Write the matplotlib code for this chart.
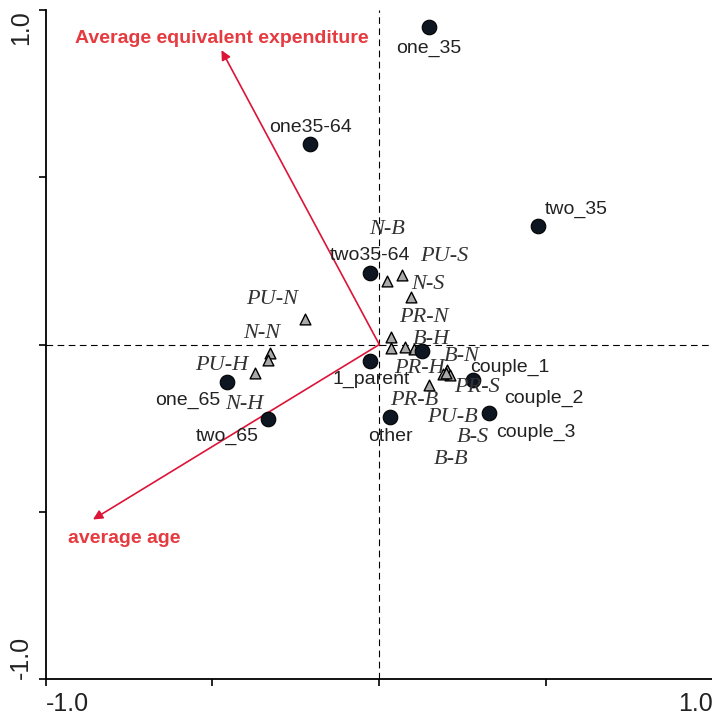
import numpy as np
import matplotlib
matplotlib.use('Agg')
import matplotlib.pyplot as plt

plt.rcParams['font.family'] = ['Liberation Sans', 'DejaVu Sans']

# household groups (circles)
groups = ['one_35', 'one35-64', 'two_35', 'two35-64', '1_parent', 'couple_1',
          'one_65', 'two_65', 'other', 'couple_2', 'couple_3']
group_x = [0.149, -0.207, 0.476, -0.027, -0.027, 0.129, -0.455, -0.335, 0.033, 0.281, 0.329]
group_y = [0.950, 0.601, 0.353, 0.215, -0.048, -0.018, -0.111, -0.224, -0.218, -0.105, -0.206]

# region / type codes (triangles)
codes = ['N-B', 'PU-S', 'N-S', 'PR-N', 'B-H', 'PR-H', 'PR-B', 'B-N', 'PR-S', 'PU-B',
         'B-S', 'B-B', 'PU-N', 'N-N', 'N-H', 'PU-H']
code_x = [0.024, 0.069, 0.096, 0.036, 0.105, 0.078, 0.150, 0.204, 0.213, 0.192,
          0.201, 0.036, -0.222, -0.329, -0.335, -0.371]
code_y = [0.191, 0.209, 0.141, 0.024, -0.012, -0.006, -0.120, -0.075, -0.090, -0.087,
          -0.084, -0.009, 0.075, -0.024, -0.045, -0.084]

# biplot vectors
vectors = ['Average equivalent expenditure', 'average age']
vec_x = [-0.473, -0.858]
vec_y = [0.880, -0.523]

# label offsets in pixels (dx, dy)
group_off = {'one_35': (0, -22), 'one35-64': (0, 16), 'two_35': (38, 17),
             'two35-64': (0, 17), '1_parent': (1, -19), 'couple_1': (87, -17),
             'one_65': (-40, -19), 'two_65': (-40, -17), 'other': (0, -19),
             'couple_2': (71, -19), 'couple_3': (47, -19)}
code_off = {'N-B': (0, 51), 'PU-S': (42, 18), 'N-S': (16, 13), 'PR-N': (33, 19),
            'B-H': (17, 9), 'PR-H': (14, -22), 'PR-B': (-15, -16), 'B-N': (14, 13),
            'PR-S': (27, -13), 'PU-B': (9, -44), 'B-S': (26, -65), 'B-B': (60, -112),
            'PU-N': (-33, 20), 'N-N': (-8, 19), 'N-H': (-23, -45), 'PU-H': (-34, 7)}
vec_off = [(0, 12), (31, -19)]

red = '#dc1438'
label_red = '#e53a3f'

fig = plt.figure(figsize=(7.12, 7.12), dpi=100)
ax = fig.add_axes([0.064, 0.0463, 0.9375, 0.9396])
ax.set_xlim(-1, 1)
ax.set_ylim(-1, 1)

ax.axhline(0, color='black', lw=0.8, ls=(0, (6, 4)), zorder=1)
ax.axvline(0, color='black', lw=0.8, ls=(0, (6, 4)), zorder=1)

for name, vx, vy, off in zip(vectors, vec_x, vec_y, vec_off):
    ax.annotate('', xy=(vx, vy), xytext=(0, 0),
                arrowprops=dict(arrowstyle='-|>', color=red, lw=1.2,
                                mutation_scale=14, shrinkA=0, shrinkB=0), zorder=2)
    ax.annotate(name, xy=(vx, vy), xytext=off, textcoords='offset pixels',
                ha='center', va='center', color=label_red, fontsize=14,
                fontweight='bold')

ax.scatter(code_x, code_y, marker='^', s=60, c='#aaaaaa', edgecolors='black',
           linewidths=1.0, zorder=3)
ax.scatter(group_x, group_y, marker='o', s=110, c='#0e1622', edgecolors='black',
           linewidths=0.8, zorder=4)

for name, x, y in zip(codes, code_x, code_y):
    ax.annotate(name, xy=(x, y), xytext=code_off[name], textcoords='offset pixels',
                ha='center', va='center', color='#333333', fontsize=16,
                family=['Liberation Serif'], style='italic', zorder=5)

for name, x, y in zip(groups, group_x, group_y):
    ax.annotate(name, xy=(x, y), xytext=group_off[name], textcoords='offset pixels',
                ha='center', va='center', color='#222222', fontsize=14, zorder=5)

ax.spines['top'].set_visible(False)
ax.spines['right'].set_visible(False)
ax.spines['left'].set_linewidth(1.3)
ax.spines['bottom'].set_linewidth(1.3)

ax.set_xticks([-1, -0.5, 0, 0.5, 1])
ax.set_yticks([-1, -0.5, 0, 0.5, 1])
ax.set_xticklabels(['-1.0', '', '', '', '1.0'], fontsize=18, color='#222222')
ax.set_yticklabels(['-1.0', '', '', '', '1.0'], fontsize=18, color='#222222',
                   rotation=90)
ax.tick_params(direction='out', length=5, width=1.2, pad=4)
xl = ax.get_xticklabels()
xl[0].set_ha('left')
xl[-1].set_ha('right')
yl = ax.get_yticklabels()
yl[0].set_va('bottom')
yl[-1].set_va('top')

fig.savefig('out.png', dpi=100)
